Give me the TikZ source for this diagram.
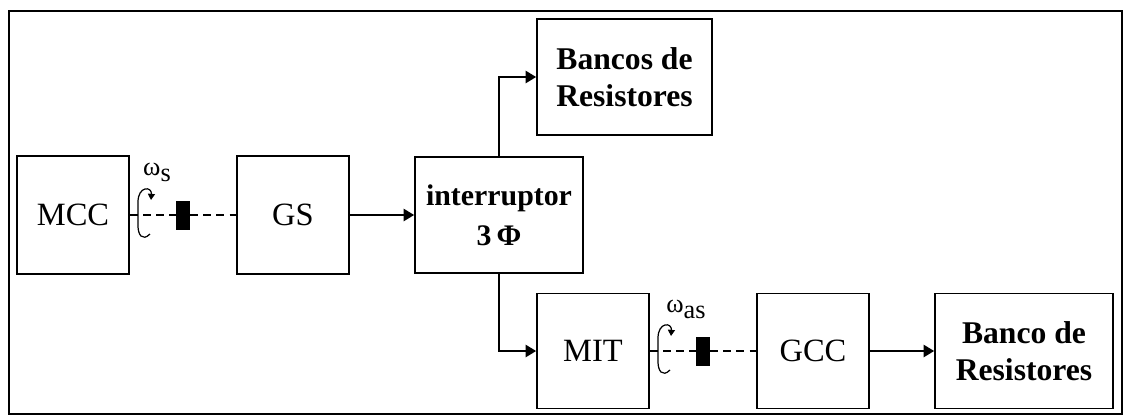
\documentclass[tikz,border=0pt]{standalone}
\usepackage{fontspec}
\setmainfont{Liberation Serif}
\usetikzlibrary{arrows.meta}

\tikzset{
  block/.style={draw, line width=1pt, inner sep=0pt, align=center,
    font=\fontsize{18.5}{21}\selectfont},
  boldblock/.style={block, font=\bfseries\fontsize{18}{21}\selectfont},
  shaft/.style={line width=0.9pt, dash pattern=on 4.5pt off 3pt},
  flow/.style={line width=1pt, -{Triangle[length=6pt,width=7pt]}},
  spin/.style={line width=0.7pt, -{Triangle[length=3.5pt,width=4pt]}},
  coupling/.style={fill=black, inner sep=0pt, minimum width=0.27cm, minimum height=0.58cm},
  speed/.style={font=\fontsize{15}{15}\selectfont},
}

\begin{document}
\begin{tikzpicture}[x=0.02cm,y=-0.02cm]
            \useasboundingbox (0,0) rectangle (1125,417);
            \draw[line width=1.4pt] (9,11) rectangle (1122,414);
            % first row
            \node[block, minimum width=2.24cm, minimum height=2.36cm] (mcc) at (73,215) {MCC};
            \node[block, minimum width=2.24cm, minimum height=2.36cm] (gs) at (293,215) {GS};
            \node[block, minimum width=3.36cm, minimum height=2.32cm,
                  font=\bfseries\fontsize{17}{23}\selectfont] (sw) at (499,215) {interruptor\\3\,Φ};
            \node[boldblock, minimum width=3.5cm, minimum height=2.32cm] (bancos) at (624.5,77) {Bancos de\\Resistores};
            % second row
            \node[block, minimum width=2.24cm, minimum height=2.3cm] (mit) at (593,351) {MIT};
            \node[block, minimum width=2.24cm, minimum height=2.3cm] (gcc) at (813,351) {GCC};
            \node[boldblock, minimum width=3.56cm, minimum height=2.3cm] (banco) at (1024,351) {Banco de\\Resistores};
            % shafts
            \node[coupling] (cs) at (183,215) {};
            \node[coupling] (cas) at (703,351) {};
            \draw[shaft] (mcc.east) -- (cs.west);
            \draw[shaft] (cs.east) -- (gs.west);
            \draw[shaft] (mit.east) -- (cas.west);
            \draw[shaft] (cas.east) -- (gcc.west);
            \draw[spin] (150,234) .. controls (142,242) and (138,234) .. (138,226) -- (138,202)
                        .. controls (138,186) and (152,186) .. (151,200);
            \draw[spin] (670,370) .. controls (662,378) and (658,370) .. (658,362) -- (658,338)
                        .. controls (658,322) and (672,322) .. (671,336);
            \node[speed] (ws) at (157,172) {ω\raisebox{-0.5ex}{s}};
            \node[speed] (was) at (686,309) {ω\raisebox{-0.5ex}{as}};
            % power flow
            \draw[flow] (gs) -- (sw);
            \draw[flow] (sw.north) |- (bancos.west);
            \draw[flow] (sw.south) |- (mit.west);
            \draw[flow] (gcc) -- (banco);
        \end{tikzpicture}
\end{document}
